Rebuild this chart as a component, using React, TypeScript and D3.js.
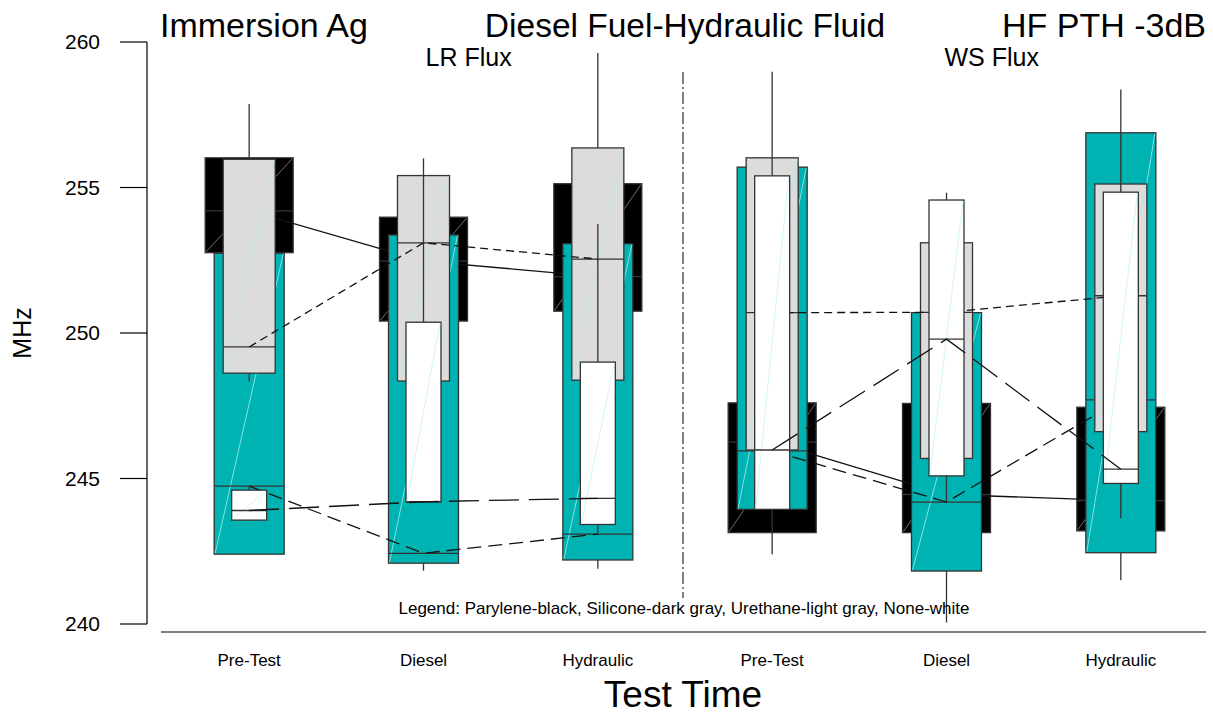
import React from "react";
import * as d3 from "d3";

// groups along the x axis (first three LR flux, last three WS flux)
const categories = ["Pre-Test", "Diesel", "Hydraulic", "Pre-Test", "Diesel", "Hydraulic"];
const yTicks = [240, 245, 250, 255, 260];

// [min, q1, median, q3, max] per group
const parylene = [
  [252.76, 252.76, 254.2, 256.02, 256.02],
  [250.41, 250.41, 252.47, 253.98, 253.98],
  [250.75, 250.75, 251.94, 255.13, 255.13],
  [243.14, 243.14, 246.25, 247.6, 247.6],
  [243.14, 243.14, 244.45, 247.58, 247.58],
  [243.2, 243.2, 244.24, 247.45, 247.45],
];
const silicone = [
  [242.4, 242.4, 244.74, 252.74, 252.74],
  [241.83, 242.09, 242.43, 253.37, 253.37],
  [241.9, 242.2, 243.09, 253.07, 253.07],
  [243.94, 243.94, 245.95, 255.7, 255.7],
  [240.05, 241.82, 244.19, 250.7, 250.7],
  [241.5, 242.45, 247.7, 256.88, 256.88],
];
const urethane = [
  [248.33, 248.62, 249.52, 255.97, 257.87],
  [248.35, 248.35, 253.1, 255.41, 255.41],
  [248.38, 248.38, 252.54, 256.36, 259.62],
  [245.98, 245.98, 250.7, 256.02, 256.02],
  [245.69, 245.69, 250.71, 253.1, 253.1],
  [246.61, 246.61, 251.28, 255.12, 255.12],
];
const none = [
  [243.57, 243.57, 243.9, 244.6, 244.74],
  [244.2, 244.2, 244.2, 250.37, 256.0],
  [243.09, 243.42, 244.32, 249.0, 253.75],
  [242.4, 243.94, 245.98, 255.4, 258.98],
  [244.19, 245.09, 249.79, 254.57, 254.82],
  [243.63, 244.83, 245.32, 254.84, 258.37],
];

const layers = [
  { name: "Parylene", stats: parylene, fill: "#000000", w: 88, dash: "", diag: "#8a8a8a" },
  { name: "Silicone", stats: silicone, fill: "#00b3b3", w: 70, dash: "14,7", diag: "#a6ecec" },
  { name: "Urethane", stats: urethane, fill: "#dcdcdc", w: 52, dash: "8,5", diag: "#b8e6ea" },
  { name: "None", stats: none, fill: "#ffffff", w: 35, dash: "30,10", diag: "#c8f2f2" },
];

const font = "'Liberation Sans', Arial, Helvetica, sans-serif";
const ink = "#333";

export default function App() {
  const W = 1213;
  const H = 715;
  const x = d3.scaleBand<number>().domain(d3.range(6)).range([162, 1208]);
  const cx = (i: number) => (x(i) ?? 0) + x.bandwidth() / 2;
  const y = d3.scaleLinear().domain([240, 260]).range([624, 42]);
  const divider = (cx(2) + cx(3)) / 2;

  const medLine = d3
    .line<[number, number]>()
    .x((d) => cx(d[0]))
    .y((d) => y(d[1]));

  return (
    <svg width={W} height={H} style={{ position: "absolute", left: 0, top: 0, background: "#fff" }} fontFamily={font}>
      {/* y axis */}
      <line x1={147} x2={147} y1={y(260)} y2={y(240)} stroke="#000" strokeWidth={1.2} />
      {yTicks.map((t) => (
        <g key={t}>
          <line x1={120} x2={147} y1={y(t)} y2={y(t)} stroke="#000" strokeWidth={1.2} />
          <text x={100} y={y(t)} dy="0.35em" textAnchor="end" fontSize={21}>
            {t}
          </text>
        </g>
      ))}
      <text transform={`translate(31,${y(250)}) rotate(-90)`} textAnchor="middle" fontSize={25}>
        MHz
      </text>

      {/* x axis */}
      <line x1={161} x2={1206} y1={632} y2={632} stroke="#000" strokeWidth={1.2} />
      {categories.map((c, i) => (
        <text key={i} x={cx(i)} y={666} textAnchor="middle" fontSize={17}>
          {c}
        </text>
      ))}
      <text x={divider - 2} y={707} textAnchor="middle" fontSize={37}>
        Test Time
      </text>

      {/* group divider */}
      <line x1={divider - 2} x2={divider - 2} y1={72} y2={598} stroke="#000" strokeWidth={1} strokeDasharray="12,3,2,3" />

      {layers.map((L) => (
        <g key={L.name}>
          {L.stats.map((s, i) => {
            const c = cx(i);
            const x0 = c - L.w / 2;
            const x1 = c + L.w / 2;
            return (
              <g key={i}>
                <line x1={c} x2={c} y1={y(s[0])} y2={y(s[1])} stroke={ink} strokeWidth={1.3} />
                <line x1={c} x2={c} y1={y(s[3])} y2={y(s[4])} stroke={ink} strokeWidth={1.3} />
                <rect x={x0} y={y(s[3])} width={L.w} height={y(s[1]) - y(s[3])} fill={L.fill} stroke={ink} strokeWidth={1.3} />
                <line x1={x0 + 1} y1={y(s[1]) - 1} x2={x1 - 1} y2={y(s[3]) + 1} stroke={L.diag} strokeWidth={0.8} />
                <line x1={x0} x2={x1} y1={y(s[2])} y2={y(s[2])} stroke={ink} strokeWidth={1.3} />
              </g>
            );
          })}
          {[
            [0, 1, 2],
            [3, 4, 5],
          ].map((g, k) => (
            <path
              key={k}
              d={medLine(g.map((i) => [i, L.stats[i][2]] as [number, number])) ?? ""}
              fill="none"
              stroke="#111"
              strokeWidth={1.3}
              strokeDasharray={L.dash}
            />
          ))}
        </g>
      ))}

      {/* titles */}
      <text x={160} y={37} fontSize={34}>
        Immersion Ag
      </text>
      <text x={divider} y={37} fontSize={33.5} textAnchor="middle">
        Diesel Fuel-Hydraulic Fluid
      </text>
      <text x={1206} y={37} fontSize={34} textAnchor="end">
        HF PTH -3dB
      </text>
      <text x={(cx(1) + cx(2)) / 2 - 42} y={66} fontSize={25} textAnchor="middle">
        LR Flux
      </text>
      <text x={(cx(4) + cx(5)) / 2 - 42} y={66} fontSize={25} textAnchor="middle">
        WS Flux
      </text>
      <text x={divider - 1} y={614} fontSize={17} textAnchor="middle">
        Legend: Parylene-black, Silicone-dark gray, Urethane-light gray, None-white
      </text>
    </svg>
  );
}
